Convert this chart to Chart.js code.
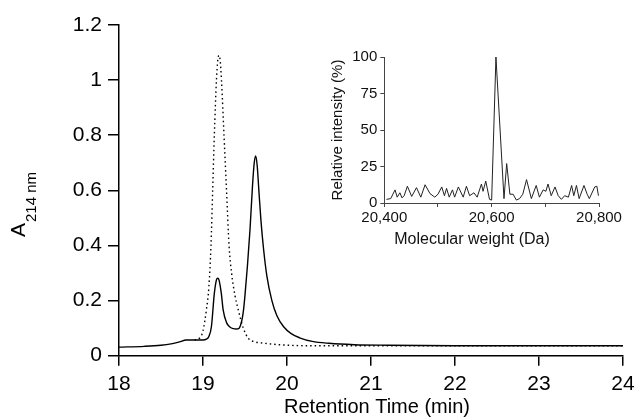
<!DOCTYPE html>
<html>
<head>
<meta charset="utf-8">
<script src="https://cdn.jsdelivr.net/npm/chart.js@4.4.0/dist/chart.umd.min.js"></script>
<style>
    html, body { margin: 0; padding: 0; background: #fff; }
    #wrap { position: relative; width: 641px; height: 417px; }
    #main-chart { position: absolute; left: 0; top: 0; }
    #inset-chart { position: absolute; left: 320px; top: 30px; }
</style>
</head>
<body>
<div id="wrap">
    <canvas id="main-chart" width="641" height="417"></canvas>
    <canvas id="inset-chart" width="310" height="230"></canvas>
</div>
<script>
// chromatogram, solid trace
var solidTime = [18.0, 18.3, 18.5, 18.62, 18.72, 18.8, 18.9, 19.0, 19.04, 19.07, 19.1, 19.135, 19.16, 19.175, 19.19,
    19.218, 19.24, 19.28, 19.32, 19.36, 19.4, 19.43, 19.46, 19.48, 19.5, 19.53, 19.56, 19.59, 19.61, 19.627, 19.645,
    19.665, 19.69, 19.72, 19.76, 19.82, 19.88, 19.96, 20.05, 20.15, 20.3, 20.5, 20.8, 21.2, 22, 23, 24];
var solidAbs = [0.031, 0.034, 0.038, 0.043, 0.05, 0.057, 0.057, 0.057, 0.06, 0.07, 0.105, 0.226, 0.275, 0.281, 0.275,
    0.226, 0.166, 0.12, 0.104, 0.098, 0.097, 0.1, 0.125, 0.16, 0.22, 0.33, 0.46, 0.62, 0.7, 0.725, 0.69,
    0.6, 0.49, 0.39, 0.29, 0.2, 0.145, 0.105, 0.08, 0.065, 0.052, 0.045, 0.04, 0.038, 0.036, 0.036, 0.036];

// chromatogram, dotted trace
var dottedTime = [18.9, 18.96, 19.0, 19.04, 19.07, 19.095, 19.115, 19.135, 19.16, 19.175, 19.19, 19.205, 19.22,
    19.25, 19.28, 19.31, 19.34, 19.38, 19.42, 19.48, 19.54, 19.62, 19.71, 19.9, 20.3, 21, 22, 23, 24];
var dottedAbs = [0.057, 0.064, 0.09, 0.166, 0.25, 0.4, 0.6, 0.8, 1.0, 1.07, 1.09, 1.07, 1.0,
    0.8, 0.6, 0.4, 0.3, 0.22, 0.166, 0.1, 0.063, 0.05, 0.046, 0.04, 0.036, 0.036, 0.036, 0.036, 0.036];

var timeTicks = [18, 19, 20, 21, 22, 23, 24];
var absTicks = [0, 0.2, 0.4, 0.6, 0.8, 1, 1.2];
var absTickLabels = ['0', '0.2', '0.4', '0.6', '0.8', '1', '1.2'];

// inset mass spectrum
var massDa = [20404, 20412, 20420, 20424, 20429, 20433, 20437, 20443, 20451, 20460, 20468, 20476, 20485, 20494,
    20500, 20507, 20512, 20516, 20521, 20527, 20531, 20538, 20547, 20553, 20559, 20567, 20573, 20581, 20584,
    20589, 20596, 20600, 20608, 20623, 20628, 20634, 20640, 20646, 20652, 20658, 20665, 20674, 20683, 20689,
    20696, 20701, 20705, 20711, 20718, 20724, 20730, 20736, 20743, 20749, 20753, 20758, 20763, 20772, 20778,
    20782, 20792, 20796, 20799];
var massIntensity = [2.5, 3, 9, 4, 7, 3.5, 5, 11.5, 4.5, 10.5, 4, 12.5, 6.5, 4,
    6, 11, 5, 10, 4, 9, 4, 11, 4, 11.5, 5, 7, 4, 13, 8,
    15, 2.5, 2, 100, 3, 27, 6, 6, 2, 3, 6, 16, 3, 12, 4,
    9, 8, 13, 5, 11, 5, 2.5, 5, 4, 12, 5, 12, 3, 12, 6,
    3, 11, 11.5, 5];
var massTicks = [20400, 20500, 20600, 20700, 20800];
var massTickLabels = ['20,400', '', '20,600', '', '20,800'];
var intensityTicks = [0, 25, 50, 75, 100];

var FONT = "'Liberation Sans', Arial, Helvetica, sans-serif";

function toPoints(xs, ys) {
    var pts = [];
    for (var i = 0; i < xs.length; i++) {
        pts.push({ x: xs[i], y: ys[i] });
    }
    return pts;
}

function fixedTicks(values) {
    return function (scale) {
        scale.ticks = values.map(function (v) { return { value: v }; });
    };
}

// axis titles drawn by hand (subscript, exact placement)
var axisTitles = {
    id: 'axisTitles',
    afterDraw: function (chart, args, opts) {
        var ctx = chart.ctx;
        (opts.items || []).forEach(function (it) {
            ctx.save();
            ctx.fillStyle = it.color || '#000';
            ctx.translate(it.x, it.y);
            if (it.rotate) ctx.rotate(-Math.PI / 2);
            ctx.font = it.size + 'px ' + FONT;
            if (it.sub) {
                ctx.textAlign = 'left';
                ctx.textBaseline = 'alphabetic';
                ctx.fillText(it.text, 0, 0);
                var w = ctx.measureText(it.text).width;
                ctx.font = it.subSize + 'px ' + FONT;
                ctx.fillText(it.sub, w + 1, it.subShift);
            } else {
                ctx.textAlign = 'center';
                ctx.textBaseline = 'middle';
                ctx.fillText(it.text, 0, 0);
            }
            ctx.restore();
        });
    }
};

var MainChart = new Chart(document.getElementById('main-chart'), {
    type: 'line',
    data: {
        datasets: [{
            label: 'dotted',
            data: toPoints(dottedTime, dottedAbs),
            borderColor: '#000',
            borderWidth: 1.4,
            borderDash: [1.5, 3],
            pointRadius: 0,
            cubicInterpolationMode: 'monotone',
            fill: false
        }, {
            label: 'solid',
            data: toPoints(solidTime, solidAbs),
            borderColor: '#000',
            borderWidth: 1.4,
            pointRadius: 0,
            cubicInterpolationMode: 'monotone',
            fill: false
        }]
    },
    plugins: [axisTitles],
    options: {
        responsive: false,
        animation: false,
        layout: { padding: { left: 0, right: 18, top: 25, bottom: 0 } },
        plugins: {
            legend: { display: false },
            tooltip: { enabled: false },
            axisTitles: {
                items: [
                    { text: 'Retention Time (min)', x: 377, y: 407, size: 20 },
                    { text: 'A', sub: '214 nm', x: 25, y: 237, size: 21, subSize: 15, subShift: 10.5, rotate: true }
                ]
            }
        },
        scales: {
            x: {
                type: 'linear',
                min: 18,
                max: 24,
                afterBuildTicks: fixedTicks(timeTicks),
                afterFit: function (scale) { scale.height = 61.3; },
                ticks: { color: '#000', font: { family: FONT, size: 21 }, padding: 6, maxRotation: 0, autoSkip: false },
                grid: { drawOnChartArea: false, drawTicks: true, tickLength: 10, color: '#000', lineWidth: 1.5 },
                border: { display: true, color: '#000', width: 1.5 }
            },
            y: {
                min: 0,
                max: 1.2,
                afterBuildTicks: fixedTicks(absTicks),
                afterFit: function (scale) { scale.width = 119; },
                ticks: {
                    color: '#000', font: { family: FONT, size: 21 }, padding: 6,
                    callback: function (value, index) { return absTickLabels[index]; }
                },
                grid: { drawOnChartArea: false, drawTicks: true, tickLength: 11, color: '#000', lineWidth: 1.5 },
                border: { display: true, color: '#000', width: 1.5 }
            }
        }
    }
});

var InsetChart = new Chart(document.getElementById('inset-chart'), {
    type: 'line',
    data: {
        datasets: [{
            label: 'spectrum',
            data: toPoints(massDa, massIntensity),
            borderColor: '#222',
            borderWidth: 1,
            pointRadius: 0,
            tension: 0,
            fill: false
        }]
    },
    plugins: [axisTitles],
    options: {
        responsive: false,
        animation: false,
        layout: { padding: { left: 0, right: 31, top: 27, bottom: 0 } },
        plugins: {
            legend: { display: false },
            tooltip: { enabled: false },
            axisTitles: {
                items: [
                    { text: 'Molecular weight (Da)', x: 152, y: 210, size: 16, color: '#111' },
                    { text: 'Relative intensity (%)', x: 18, y: 100, size: 15, rotate: true, color: '#111' }
                ]
            }
        },
        scales: {
            x: {
                type: 'linear',
                min: 20400,
                max: 20800,
                afterBuildTicks: fixedTicks(massTicks),
                afterFit: function (scale) { scale.height = 57; },
                ticks: {
                    color: '#111', font: { family: FONT, size: 15 }, padding: 2, maxRotation: 0, autoSkip: false,
                    callback: function (value, index) { return massTickLabels[index]; }
                },
                grid: { drawOnChartArea: false, drawTicks: true, tickLength: 4, color: '#444', lineWidth: 1 },
                border: { display: true, color: '#444', width: 1 }
            },
            y: {
                min: 0,
                max: 100,
                afterBuildTicks: fixedTicks(intensityTicks),
                afterFit: function (scale) { scale.width = 64.3; },
                ticks: { color: '#111', font: { family: FONT, size: 15 }, padding: 3 },
                grid: { drawOnChartArea: false, drawTicks: true, tickLength: 4, color: '#444', lineWidth: 1 },
                border: { display: true, color: '#444', width: 1 }
            }
        }
    }
});
</script>
</body>
</html>
